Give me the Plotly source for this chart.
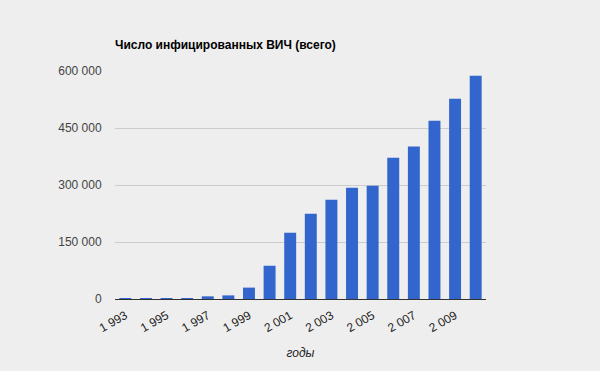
import plotly.graph_objects as go

years = [1993, 1994, 1995, 1996, 1997, 1998, 1999, 2000, 2001,
         2002, 2003, 2004, 2005, 2006, 2007, 2008, 2009, 2010]
infected = [200, 300, 400, 2500, 7000, 9500, 30000, 87500, 174500,
            224500, 261500, 293000, 298000, 372000, 401000, 469000, 527000, 587500]
x_tick_years = [1993, 1995, 1997, 1999, 2001, 2003, 2005, 2007, 2009]
x_tick_labels = ["1 993", "1 995", "1 997", "1 999", "2 001", "2 003", "2 005", "2 007", "2 009"]
y_tick_vals = [0, 150000, 300000, 450000, 600000]
y_tick_labels = ["0", "150 000", "300 000", "450 000", "600 000"]

title_text = "Число инфицированных ВИЧ (всего)"
x_title = "годы"

fig = go.Figure(go.Bar(
    x=years, y=infected,
    marker=dict(color="#3366cc", line=dict(width=0)),
))

fig.update_layout(
    width=600, height=371,
    paper_bgcolor="#eeeeee", plot_bgcolor="#eeeeee",
    margin=dict(l=115, r=114, t=71, b=72),
    bargap=0.42,
    showlegend=False,
    font=dict(family="Arial, Liberation Sans, sans-serif", size=12, color="#444444"),
    title=dict(
        text="<b>" + title_text + "</b>",
        xref="paper", x=0, xanchor="left",
        yref="container", y=1 - 45 / 371, yanchor="middle",
        font=dict(family="Arial, Liberation Sans, sans-serif", size=12, color="#000000"),
    ),
    xaxis=dict(
        range=[1992.5, 2010.5],
        tickvals=x_tick_years, ticktext=x_tick_labels,
        tickangle=-30,
        showgrid=False, zeroline=False,
        showline=False,
        ticks="outside", ticklen=4, tickcolor="rgba(0,0,0,0)",
        tickfont=dict(size=12, color="#222222"),
        title=dict(text="<i>" + x_title + "</i>", standoff=14,
                   font=dict(size=12, color="#222222")),
        fixedrange=True,
    ),
    yaxis=dict(
        range=[0, 600000],
        tickvals=y_tick_vals, ticktext=y_tick_labels,
        showgrid=True, gridcolor="#cccccc", gridwidth=1,
        zeroline=True, zerolinecolor="#333333", zerolinewidth=1,
        ticks="outside", ticklen=10, tickcolor="rgba(0,0,0,0)",
        tickfont=dict(size=12, color="#444444"),
        fixedrange=True,
    ),
)

fig.write_html(
    "out.html",
    config={"displayModeBar": False},
    post_script="document.body.style.margin='0';document.body.style.overflow='hidden';",
)
